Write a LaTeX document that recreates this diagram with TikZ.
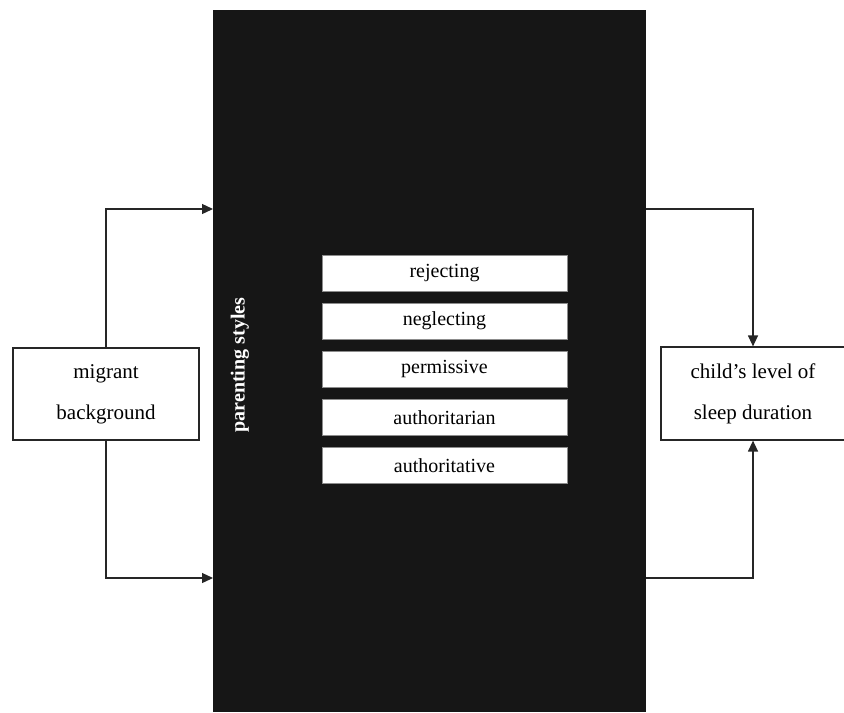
\documentclass[tikz,border=0pt]{standalone}
\usepackage{fontspec}
\setmainfont{Liberation Serif}
\usetikzlibrary{arrows.meta}
\definecolor{panel}{HTML}{161616}
\tikzset{
  box/.style={draw=black!85, line width=0.6pt, fill=white, align=center,
    font=\fontsize{10.5}{20.5}\selectfont, inner sep=0pt},
  bar/.style={draw=black!45, line width=0.4pt, fill=white, inner sep=0pt,
    minimum width=122.5pt, minimum height=18pt, font=\fontsize{10}{12}\selectfont},
  link/.style={draw=black!85, line width=0.65pt, -{Triangle[length=5.5pt,width=5pt]}}
}
\begin{document}
\begin{tikzpicture}[x=0.5pt,y=-0.5pt]
\useasboundingbox (0,0) rectangle (844,712);
\node[fill=panel, inner sep=0pt, minimum width=216.5pt, minimum height=351pt] (styles) at (429.5,361) {};
\node[rotate=90, text=white, font=\fontsize{10}{12}\selectfont\bfseries] (lbl) at (240,365) {parenting styles};
\foreach \name/\txt [count=\i from 0] in {rej/rejecting, neg/neglecting, per/permissive, aur/authoritarian, aut/authoritative}
  \node[bar] (\name) at (444.5,273+48.2*\i) {\txt};
\node[box, minimum width=93pt, minimum height=46pt] (mig) at (106,394) {migrant\\background};
\node[box, minimum width=92pt, minimum height=46.5pt] (sleep) at (753,393.5) {child’s level of\\sleep duration};
\coordinate (inA) at (213,209);
\coordinate (inB) at (213,578);
\coordinate (outA) at (646,209);
\coordinate (outB) at (646,578);
\draw[link] (mig.north) |- (inA);
\draw[link] (mig.south) |- (inB);
\draw[link] (outA) -| (sleep.north);
\draw[link] (outB) -| (sleep.south);
\end{tikzpicture}
\end{document}
